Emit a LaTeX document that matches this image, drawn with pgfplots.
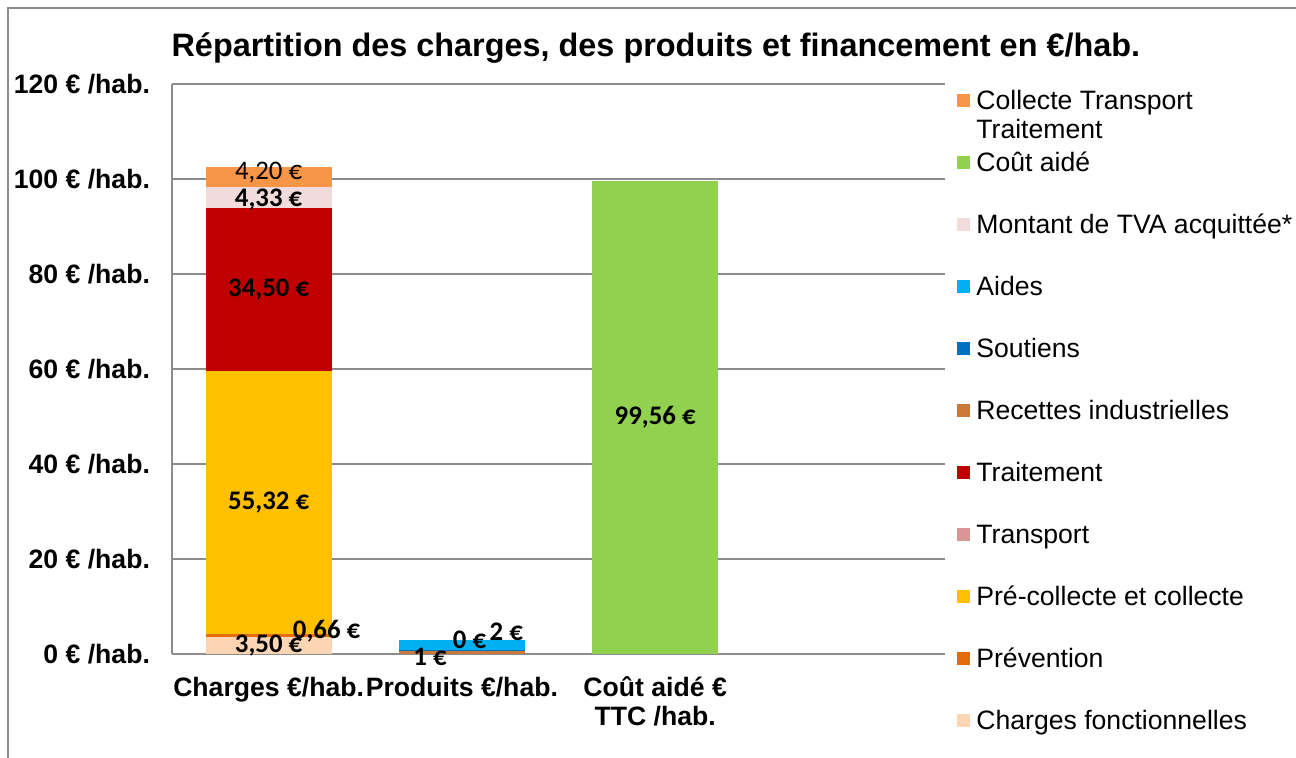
\documentclass[border=0pt]{standalone}
\usepackage{fontspec}
\setmainfont{Liberation Sans}
\newfontfamily\calibri{Carlito}
\usepackage{pgfplots}
\pgfplotsset{compat=1.18}
\usepackage{pgfplotstable}

\definecolor{cfonc}{HTML}{FCD5B5}
\definecolor{cprev}{HTML}{E46C0A}
\definecolor{cpre}{HTML}{FFC000}
\definecolor{ctransp}{HTML}{D99694}
\definecolor{ctrait}{HTML}{C00000}
\definecolor{crec}{HTML}{C97A3A}
\definecolor{csout}{HTML}{0070C0}
\definecolor{caides}{HTML}{00B0F0}
\definecolor{ctva}{HTML}{F2DCDB}
\definecolor{ccout}{HTML}{92D050}
\definecolor{cctt}{HTML}{F79646}
\definecolor{gridgray}{HTML}{8C8C8C}

\pgfplotsset{sqleg/.style={legend image code/.code={\fill[##1] (0pt,-3.25pt) rectangle (6.5pt,3.25pt);}}}

% 0 = Charges, 1 = Produits, 2 = Cout aide, 3 = vide
\pgfplotstableread{
x cf   prev pre   transp trait rec sout aides tva  cout  ctt
0 3.50 0.66 55.32 0      34.50 0   0    0     4.33 0     4.20
1 0    0    0     0      0     0.6 0.3  2.0   0    0     0
2 0    0    0     0      0     0   0    0     0    99.56 0
3 0    0    0     0      0     0   0    0     0    0     0
}\data

\begin{document}
\begin{tikzpicture}
\begin{axis}[
    width=386.5pt, height=285pt, scale only axis,
    ybar stacked, bar width=63pt,
    xmin=-0.5, xmax=3.5, ymin=0, ymax=120,
    axis x line*=bottom, axis y line*=left,
    axis line style={draw=gridgray, line width=1pt},
    ymajorgrids, grid style={draw=gridgray, line width=1pt},
    major tick length=0pt,
    xtick={0,1,2,3},
    xticklabels={Charges €/hab., Produits €/hab., {Coût aidé €\\TTC /hab.}, {}},
    ytick={0,20,...,120},
    yticklabels={0 € /hab., 20 € /hab., 40 € /hab., 60 € /hab., 80 € /hab., 100 € /hab., 120 € /hab.},
    tick label style={font=\bfseries\fontsize{13.3}{14.5}\selectfont},
    xticklabel style={align=center, yshift=-8pt},
    yticklabel style={xshift=-7.5pt},
    title={Répartition des charges, des produits et financement en €/hab.},
    title style={font=\bfseries\fontsize{16.2}{18}\selectfont, at={(0.626,1)}, anchor=base, yshift=7.5pt},
    reverse legend, legend cell align=left,
    legend style={at={(1.0155,1.026)}, anchor=north west, draw=none, fill=none,
        inner sep=0pt, column sep=3pt, row sep=0pt,
        font=\fontsize{13.3}{14.5}\selectfont,
        nodes={inner sep=0pt, text height=20pt, text depth=11pt}},
]
\addplot[fill=cfonc, draw=none, sqleg] table[x=x, y=cf] {\data};
\addlegendentry{Charges fonctionnelles}
\addplot[fill=cprev, draw=none, sqleg] table[x=x, y=prev] {\data};
\addlegendentry{Prévention}
\addplot[fill=cpre, draw=none, sqleg] table[x=x, y=pre] {\data};
\addlegendentry{Pré-collecte et collecte}
\addplot[fill=ctransp, draw=none, sqleg] table[x=x, y=transp] {\data};
\addlegendentry{Transport}
\addplot[fill=ctrait, draw=none, sqleg] table[x=x, y=trait] {\data};
\addlegendentry{Traitement}
\addplot[fill=crec, draw=none, sqleg] table[x=x, y=rec] {\data};
\addlegendentry{Recettes industrielles}
\addplot[fill=csout, draw=none, sqleg] table[x=x, y=sout] {\data};
\addlegendentry{Soutiens}
\addplot[fill=caides, draw=none, sqleg] table[x=x, y=aides] {\data};
\addlegendentry{Aides}
\addplot[fill=ctva, draw=none, sqleg] table[x=x, y=tva] {\data};
\addlegendentry{Montant de TVA acquittée*}
\addplot[fill=ccout, draw=none, sqleg] table[x=x, y=cout] {\data};
\addlegendentry{Coût aidé}
\addplot[fill=cctt, draw=none, sqleg] table[x=x, y=ctt] {\data};
\addlegendentry{\smash{\begin{tabular}[t]{@{}l@{}}Collecte Transport\\Traitement\end{tabular}}}
\end{axis}

% étiquettes de valeurs
\begin{axis}[
    width=386.5pt, height=285pt, scale only axis,
    xmin=-0.5, xmax=3.5, ymin=0, ymax=120,
    hide axis, clip=false,
]
\addplot[only marks, mark=none, nodes near coords, point meta=explicit symbolic,
    every node near coord/.append style={font=\calibri\bfseries\fontsize{13.4}{13.4}\selectfont, anchor=center, inner sep=0pt}]
    coordinates {(0,1.75) [3,50 €] (0.3,4.8) [0,66 €] (0,31.82) [55,32 €] (0,76.73) [34,50 €]
                 (0,95.7) [4,33 €] (0.835,-0.6) [1 €] (1.04,2.9) [0 €] (1.23,4.6) [2 €] (2,49.78) [99,56 €]};
\addplot[only marks, mark=none, nodes near coords, point meta=explicit symbolic,
    every node near coord/.append style={font=\calibri\fontsize{13.4}{13.4}\selectfont, anchor=center, inner sep=0pt}]
    coordinates {(0,101.3) [4,20 €]};
\end{axis}

\pgfresetboundingbox
\path[use as bounding box] (-86pt,-52pt) rectangle (562pt,327pt);
\draw[gridgray, line width=0.75pt] (-82pt,-60pt) -- (-82pt,323pt) -- (570pt,323pt);
\end{tikzpicture}
\end{document}
